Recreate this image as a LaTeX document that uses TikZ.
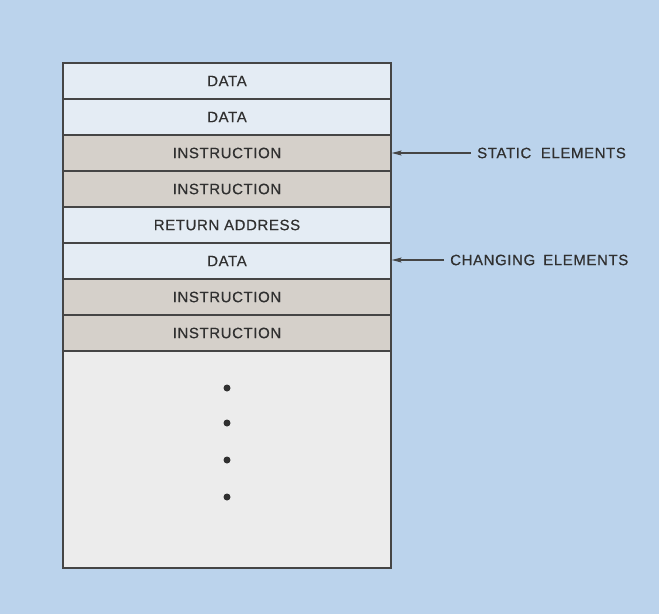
\documentclass[tikz,border=0pt]{standalone}
\usepackage{fontspec}
\setmainfont{Liberation Sans}[LetterSpace=4,FakeBold=0.5]
\usetikzlibrary{arrows.meta}
\definecolor{bg}{HTML}{BBD3EC}
\definecolor{datafill}{HTML}{E4ECF4}
\definecolor{instrfill}{HTML}{D5D0CA}
\definecolor{restfill}{HTML}{ECECEC}
\definecolor{edge}{HTML}{454545}
\definecolor{ink}{HTML}{303030}
\begin{document}
\begin{tikzpicture}[x=1pt,y=-1pt,
  cell/.style={draw=edge, line width=1.2pt, minimum width=328pt, minimum height=36pt,
    inner sep=0pt, font=\fontsize{15}{16}\selectfont, text=ink},
  datacell/.style={cell, fill=datafill},
  instrcell/.style={cell, fill=instrfill},
  sidelabel/.style={anchor=west, inner xsep=6pt, inner ysep=0pt, text=ink,
    font=\fontsize{15}{16}\selectfont},
  pointer/.style={draw=edge, line width=1.2pt, -{Stealth[length=10pt,width=5pt,inset=2pt]}},
  dotmark/.style={circle, fill=ink, inner sep=0pt, minimum size=7pt}]
\useasboundingbox[fill=bg] (0,0) rectangle (659,614);
\node[datacell] (r1) at (227,81) {DATA};
\node[datacell] (r2) at (227,117) {DATA};
\node[instrcell] (r3) at (227,153) {INSTRUCTION};
\node[instrcell] (r4) at (227,189) {INSTRUCTION};
\node[datacell] (r5) at (227,225) {RETURN ADDRESS};
\node[datacell] (r6) at (227,261) {DATA};
\node[instrcell] (r7) at (227,297) {INSTRUCTION};
\node[instrcell] (r8) at (227,333) {INSTRUCTION};
\node[cell, fill=restfill, minimum height=217pt] (rest) at (227,459.5) {};
\node[dotmark] (d1) at (227,388) {};
\node[dotmark] (d2) at (227,423) {};
\node[dotmark] (d3) at (227,460) {};
\node[dotmark] (d4) at (227,497) {};
\node[sidelabel] (st) at (471,153) {STATIC\ \ ELEMENTS};
\node[sidelabel] (ch) at (444,260) {CHANGING\hspace{8pt}ELEMENTS};
\draw[pointer] (st.west) -- (r3.east);
\draw[pointer] (ch.west) -- (r6.east |- ch.west);
\end{tikzpicture}
\end{document}
